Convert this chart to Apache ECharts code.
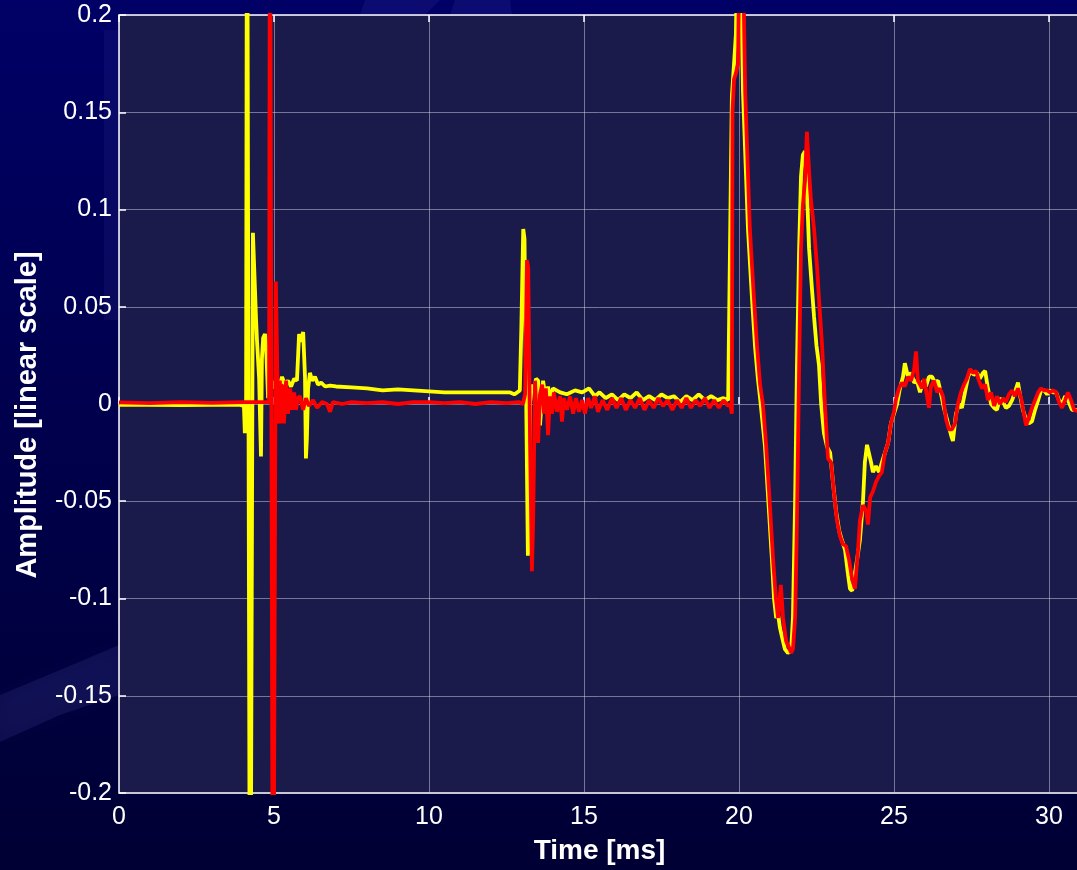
<!DOCTYPE html>
<html>
<head>
<meta charset="utf-8">
<script src="https://cdn.jsdelivr.net/npm/echarts@6/dist/echarts.min.js"></script>
<style>
html,body{margin:0;padding:0;overflow:hidden;background:#000048;width:1077px;height:870px;}
#chart{width:1080px;height:870px;}
</style>
</head>
<body>
<div id="chart"></div>
<script>
// ---- data (time in ms, amplitude linear) ----
var xTicks = [0, 5, 10, 15, 20, 25, 30];
var yTicks = [-0.2, -0.15, -0.1, -0.05, 0, 0.05, 0.1, 0.15, 0.2];

var yellowT = [0,1,2,3,3.9,4.03,4.06,4.10,4.13,4.19,4.23,4.29,4.32,4.35,4.42,4.45,4.52,4.58,4.61,4.65,4.71,4.74,4.81,4.84,4.90,4.97,5.06,5.16,5.26,5.35,5.45,5.55,5.65,5.74,5.81,5.87,5.94,5.97,6.00,6.03,6.06,6.10,6.16,6.23,6.32,6.42,6.52,6.65,6.81,7.0,7.5,8.0,8.5,9.0,9.5,10.0,10.5,11,11.5,12,12.6,12.75,12.85,12.93,12.98,13.04,13.08,13.19,13.22,13.26,13.32,13.39,13.45,13.52,13.58,13.68,13.77,13.84,13.9,14.0,14.23,14.45,14.71,14.94,15.16,15.35,15.5,15.7,15.9,16.1,16.3,16.5,16.7,16.9,17.1,17.3,17.5,17.7,17.9,18.1,18.3,18.5,18.7,18.9,19.1,19.3,19.5,19.65,19.70,19.74,19.77,19.84,19.90,19.96,20.03,20.13,20.29,20.42,20.52,20.61,20.68,20.84,20.94,21.07,21.13,21.2,21.26,21.32,21.39,21.48,21.58,21.68,21.74,21.81,21.87,21.94,22.0,22.06,22.13,22.19,22.26,22.35,22.42,22.5,22.58,22.65,22.74,22.84,22.94,23.03,23.13,23.23,23.32,23.42,23.52,23.58,23.65,23.71,23.81,23.9,24.0,24.06,24.13,24.19,24.26,24.32,24.42,24.52,24.61,24.71,24.81,24.9,25.0,25.1,25.19,25.29,25.35,25.45,25.55,25.65,25.74,25.84,25.94,26.03,26.13,26.23,26.32,26.42,26.52,26.61,26.71,26.84,26.9,27.0,27.1,27.19,27.29,27.39,27.48,27.58,27.68,27.77,27.87,27.94,28.03,28.13,28.23,28.32,28.42,28.52,28.61,28.71,28.81,28.9,29.0,29.06,29.16,29.26,29.35,29.45,29.55,29.65,29.74,29.84,29.94,30.03,30.13,30.23,30.32,30.42,30.52,30.61,30.74,30.9,31.0];
var yellowV = [-0.0005,-0.0004,-0.0006,-0.0004,-0.0005,-0.001,-0.015,0.0,0.32,0.32,-0.35,-0.35,0.088,0.088,0.044,0.033,0.013,-0.027,0.023,0.034,0.036,0.031,0.003,0.027,0.013,0.008,0.012,0.008,0.014,0.010,0.012,0.009,0.013,0.012,0.036,0.032,0.037,0.038,0.014,-0.028,-0.018,0.008,0.016,0.012,0.014,0.010,0.011,0.009,0.0095,0.009,0.0085,0.008,0.007,0.0075,0.007,0.0065,0.006,0.006,0.006,0.006,0.006,0.005,0.006,0.007,0.04,0.09,0.085,-0.078,-0.07,0.0,0.010,0.006,0.013,0.012,-0.011,0.012,0.002,0.009,0.003,0.008,0.006,0.005,0.007,0.006,0.008,0.004,0.006,0.003,0.005,0.002,0.005,0.003,0.006,0.002,0.004,0.002,0.005,0.003,0.004,0.001,0.004,0.002,0.005,0.002,0.004,0.002,0.003,0.002,0.003,0.12,0.158,0.175,0.19,0.25,0.25,0.16,0.09,0.054,0.029,0.013,0.003,-0.022,-0.048,-0.082,-0.1,-0.11,-0.108,-0.115,-0.12,-0.126,-0.128,-0.127,-0.11,-0.05,0.02,0.08,0.117,0.128,0.13,0.11,0.08,0.06,0.045,0.03,0.02,0.0,-0.015,-0.022,-0.025,-0.04,-0.055,-0.065,-0.07,-0.075,-0.088,-0.095,-0.096,-0.09,-0.08,-0.07,-0.05,-0.03,-0.021,-0.02,-0.03,-0.035,-0.032,-0.035,-0.03,-0.025,-0.02,-0.01,-0.005,0.0,0.008,0.014,0.021,0.014,0.016,0.011,0.012,0.006,0.012,0.009,0.014,0.014,0.011,0.012,0.005,-0.002,-0.008,-0.016,-0.019,-0.005,0.0,-0.002,0.006,0.014,0.017,0.015,0.016,0.013,0.016,0.017,0.008,0.0,-0.002,-0.003,0.003,0.001,-0.002,-0.001,0.002,0.006,0.011,0.005,-0.003,-0.008,-0.01,-0.009,-0.003,0.002,0.007,0.007,0.005,0.007,0.006,0.006,0.002,0.0,0.004,0.002,-0.003,-0.003,-0.004];

var redT = [0,1,2,3,4,4.5,4.84,4.87,4.93,4.97,5.03,5.06,5.10,5.13,5.16,5.19,5.23,5.29,5.32,5.39,5.45,5.52,5.58,5.65,5.71,5.77,5.84,5.94,6.03,6.13,6.26,6.39,6.55,6.71,6.81,6.9,7.2,7.5,8,8.5,9,9.5,10,10.5,11,11.5,12,12.5,12.9,13.03,13.1,13.16,13.2,13.26,13.32,13.36,13.42,13.48,13.52,13.58,13.65,13.71,13.77,13.84,13.9,13.97,14.03,14.13,14.23,14.29,14.35,14.45,14.55,14.65,14.74,14.84,14.94,15.03,15.13,15.23,15.35,15.45,15.6,15.75,15.9,16.05,16.2,16.35,16.5,16.65,16.8,16.95,17.1,17.25,17.4,17.55,17.7,17.85,18.0,18.15,18.3,18.45,18.6,18.75,18.9,19.05,19.2,19.35,19.5,19.65,19.72,19.77,19.79,19.84,19.9,19.97,20.03,20.1,20.2,20.35,20.48,20.58,20.68,20.77,20.87,20.97,21.1,21.19,21.26,21.35,21.42,21.52,21.61,21.68,21.74,21.81,21.87,21.94,22.0,22.06,22.13,22.19,22.26,22.32,22.42,22.52,22.58,22.68,22.77,22.87,22.97,23.06,23.16,23.26,23.35,23.45,23.55,23.65,23.74,23.84,23.9,24.0,24.1,24.16,24.23,24.32,24.42,24.52,24.61,24.71,24.81,24.9,25.0,25.06,25.16,25.26,25.35,25.45,25.55,25.65,25.71,25.77,25.84,25.9,25.97,26.03,26.13,26.19,26.29,26.39,26.48,26.58,26.68,26.77,26.87,26.97,27.06,27.16,27.26,27.35,27.45,27.55,27.65,27.74,27.84,27.94,28.03,28.13,28.23,28.32,28.42,28.52,28.61,28.71,28.81,28.9,29.0,29.1,29.19,29.26,29.35,29.45,29.55,29.65,29.74,29.84,29.94,30.03,30.13,30.23,30.32,30.42,30.52,30.61,30.71,30.81,31.0];
var redV = [0.0008,0.0005,0.001,0.0006,0.001,0.001,0.001,0.3,0.3,-0.35,-0.35,0.063,0.063,-0.005,-0.01,0.012,-0.01,0.01,-0.01,0.012,-0.005,0.008,-0.003,0.006,-0.003,0.003,0.004,-0.003,0.003,-0.001,0.002,-0.002,0.001,0.0,-0.004,0.001,0.0,0.001,0.0005,0.001,0.0,0.001,0.001,0.0005,0.001,0.0,0.001,0.0005,0.001,0.0,0.005,0.074,0.07,-0.02,-0.086,-0.06,0.012,-0.01,-0.02,0.005,0.01,-0.005,0.008,-0.016,0.004,-0.005,0.006,-0.004,0.004,-0.009,0.003,-0.003,0.004,-0.005,0.003,-0.004,0.002,-0.005,0.003,-0.002,0.004,-0.004,0.002,-0.003,0.003,-0.002,0.003,-0.003,0.002,-0.002,0.003,-0.003,0.002,-0.002,0.003,-0.001,0.002,-0.003,0.002,-0.002,0.003,-0.002,0.002,-0.001,0.003,-0.002,0.002,-0.002,0.002,-0.001,0.0,-0.005,0.15,0.167,0.17,0.175,0.26,0.26,0.16,0.09,0.055,0.03,0.01,0.0,-0.02,-0.045,-0.08,-0.1,-0.11,-0.093,-0.11,-0.122,-0.125,-0.128,-0.126,-0.11,-0.06,0.02,0.08,0.102,0.115,0.14,0.12,0.105,0.09,0.07,0.054,0.03,0.0,-0.028,-0.03,-0.045,-0.06,-0.068,-0.072,-0.073,-0.08,-0.09,-0.095,-0.075,-0.06,-0.052,-0.055,-0.062,-0.048,-0.045,-0.04,-0.037,-0.035,-0.025,-0.02,-0.01,-0.004,0.002,0.008,0.011,0.009,0.014,0.012,0.018,0.027,0.012,0.01,0.008,0.013,0.012,-0.002,0.009,0.012,0.006,0.008,0.004,-0.008,-0.013,-0.013,-0.01,0.0,0.006,0.01,0.013,0.018,0.016,0.017,0.012,0.008,0.01,0.002,0.006,-0.001,0.004,0.0,0.003,0.001,0.005,0.007,0.004,0.008,0.003,-0.005,-0.011,-0.007,-0.002,0.002,0.006,0.008,0.007,0.007,0.006,0.007,0.006,0.001,-0.002,0.002,0.006,0.002,-0.003,-0.004];

function pairs(t, v) { return t.map(function (x, i) { return [x, v[i]]; }); }

var chart = echarts.init(document.getElementById('chart'), null, {renderer: 'canvas'});
var labelFont = 'Liberation Sans, Arial, sans-serif';
var tickLen = 7;

chart.setOption({
  animation: false,
  backgroundColor: {
    type: 'linear', x: 0, y: 0, x2: 0, y2: 1,
    colorStops: [
      {offset: 0, color: '#000066'},
      {offset: 0.5, color: '#00004c'},
      {offset: 1, color: '#000034'}
    ]
  },
  graphic: [
    {type: 'polygon', z: -10, silent: true,
      shape: {points: [[0, 695], [60, 670], [119, 645], [119, 695], [60, 715], [0, 742]]},
      style: {fill: 'rgba(110,110,210,0.13)', shadowBlur: 20, shadowColor: 'rgba(110,110,210,0.3)'}},
    {type: 'rect', z: -10, silent: true,
      shape: {x: 104, y: 30, width: 14, height: 290},
      style: {fill: 'rgba(90,90,190,0.10)'}},
    {type: 'polygon', z: -10, silent: true,
      shape: {points: [[365, 0], [440, 0], [425, 15], [360, 15]]},
      style: {fill: 'rgba(70,70,180,0.16)'}},
    {type: 'polygon', z: -10, silent: true,
      shape: {points: [[455, 0], [510, 0], [512, 15], [450, 15]]},
      style: {fill: 'rgba(70,70,180,0.16)'}}
  ],
  grid: {
    left: 119, right: 0, top: 15, bottom: 73,
    show: true, backgroundColor: '#1b1b4b', borderColor: '#ffffff', borderWidth: 1.5
  },
  xAxis: [{
    type: 'value', min: 0, max: 31, interval: 5, position: 'bottom',
    name: 'Time [ms]', nameLocation: 'middle', nameGap: 44,
    nameTextStyle: {color: '#ffffff', fontSize: 28, fontWeight: 'bold', fontFamily: labelFont},
    axisLine: {show: false},
    axisTick: {show: true, inside: true, length: tickLen, lineStyle: {color: '#ffffff', width: 1.5}},
    axisLabel: {color: '#ffffff', fontSize: 25, fontFamily: labelFont, margin: 12, showMaxLabel: false},
    splitLine: {show: true, lineStyle: {color: 'rgba(210,210,230,0.5)', width: 1}}
  }, {
    type: 'value', min: 0, max: 31, interval: 5, position: 'top',
    axisLine: {show: false},
    axisTick: {show: true, inside: true, length: tickLen, lineStyle: {color: '#ffffff', width: 1.5}},
    axisLabel: {show: false},
    splitLine: {show: false}
  }],
  yAxis: {
    type: 'value', min: -0.2, max: 0.2, interval: 0.05,
    name: 'Amplitude [linear scale]', nameLocation: 'middle', nameGap: 77, nameRotate: 90,
    nameTextStyle: {color: '#ffffff', fontSize: 29, fontWeight: 'bold', fontFamily: labelFont, padding: [0, 22, 0, 0]},
    axisLine: {show: false},
    axisTick: {show: true, inside: true, length: tickLen, lineStyle: {color: '#ffffff', width: 1.5}},
    axisLabel: {color: '#ffffff', fontSize: 25, fontFamily: labelFont, margin: 7},
    splitLine: {show: true, lineStyle: {color: 'rgba(210,210,230,0.5)', width: 1}}
  },
  series: [{
    name: 'yellow', type: 'line', xAxisIndex: 0, data: pairs(yellowT, yellowV),
    showSymbol: false, symbol: 'none', clip: true,
    lineStyle: {color: '#ffff00', width: 3.8}
  }, {
    name: 'red', type: 'line', xAxisIndex: 0, data: pairs(redT, redV),
    showSymbol: false, symbol: 'none', clip: true,
    lineStyle: {color: '#ff0000', width: 3.8}
  }]
});
</script>
</body>
</html>
